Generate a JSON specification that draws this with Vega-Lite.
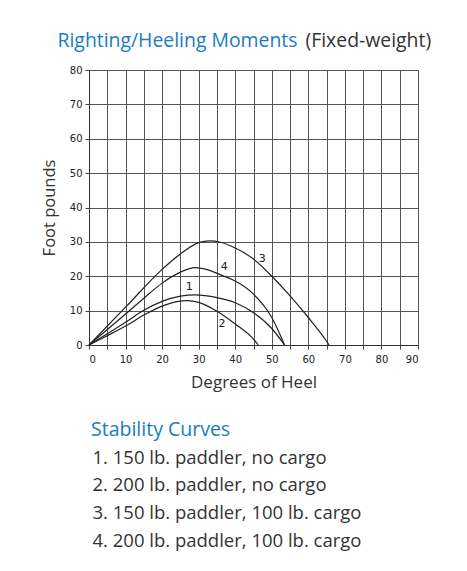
{
  "$schema": "https://vega.github.io/schema/vega-lite/v6.json",
  "width": 329,
  "height": 275,
  "autosize": "none",
  "padding": {"left": 89, "top": 70, "right": 49, "bottom": 226},
  "background": "white",
  "config": {
    "view": {"stroke": "#999999", "strokeWidth": 1}
  },
  "datasets": {
    "curves": [
      {"curve": "1. 150 lb. paddler, no cargo", "heel": 0, "moment": 0},
      {"curve": "1. 150 lb. paddler, no cargo", "heel": 5, "moment": 3.3},
      {"curve": "1. 150 lb. paddler, no cargo", "heel": 10, "moment": 6.6},
      {"curve": "1. 150 lb. paddler, no cargo", "heel": 15, "moment": 10.1},
      {"curve": "1. 150 lb. paddler, no cargo", "heel": 20, "moment": 12.7},
      {"curve": "1. 150 lb. paddler, no cargo", "heel": 25, "moment": 14.2},
      {"curve": "1. 150 lb. paddler, no cargo", "heel": 29, "moment": 14.6},
      {"curve": "1. 150 lb. paddler, no cargo", "heel": 35, "moment": 13.8},
      {"curve": "1. 150 lb. paddler, no cargo", "heel": 40, "moment": 12.3},
      {"curve": "1. 150 lb. paddler, no cargo", "heel": 45, "moment": 9.4},
      {"curve": "1. 150 lb. paddler, no cargo", "heel": 50, "moment": 4.8},
      {"curve": "1. 150 lb. paddler, no cargo", "heel": 53.5, "moment": 0},
      {"curve": "2. 200 lb. paddler, no cargo", "heel": 0, "moment": 0},
      {"curve": "2. 200 lb. paddler, no cargo", "heel": 5, "moment": 2.7},
      {"curve": "2. 200 lb. paddler, no cargo", "heel": 10, "moment": 5.5},
      {"curve": "2. 200 lb. paddler, no cargo", "heel": 15, "moment": 8.7},
      {"curve": "2. 200 lb. paddler, no cargo", "heel": 20, "moment": 11.3},
      {"curve": "2. 200 lb. paddler, no cargo", "heel": 24, "moment": 12.6},
      {"curve": "2. 200 lb. paddler, no cargo", "heel": 27, "moment": 12.9},
      {"curve": "2. 200 lb. paddler, no cargo", "heel": 30, "moment": 12.4},
      {"curve": "2. 200 lb. paddler, no cargo", "heel": 35, "moment": 9.8},
      {"curve": "2. 200 lb. paddler, no cargo", "heel": 40, "moment": 6.1},
      {"curve": "2. 200 lb. paddler, no cargo", "heel": 45, "moment": 1.7},
      {"curve": "2. 200 lb. paddler, no cargo", "heel": 46.3, "moment": 0},
      {"curve": "3. 150 lb. paddler, 100 lb. cargo", "heel": 0, "moment": 0},
      {"curve": "3. 150 lb. paddler, 100 lb. cargo", "heel": 10, "moment": 11},
      {"curve": "3. 150 lb. paddler, 100 lb. cargo", "heel": 20, "moment": 22},
      {"curve": "3. 150 lb. paddler, 100 lb. cargo", "heel": 25, "moment": 26.5},
      {"curve": "3. 150 lb. paddler, 100 lb. cargo", "heel": 30, "moment": 29.8},
      {"curve": "3. 150 lb. paddler, 100 lb. cargo", "heel": 33, "moment": 30.3},
      {"curve": "3. 150 lb. paddler, 100 lb. cargo", "heel": 36, "moment": 29.9},
      {"curve": "3. 150 lb. paddler, 100 lb. cargo", "heel": 40, "moment": 28.2},
      {"curve": "3. 150 lb. paddler, 100 lb. cargo", "heel": 45, "moment": 25},
      {"curve": "3. 150 lb. paddler, 100 lb. cargo", "heel": 50, "moment": 20},
      {"curve": "3. 150 lb. paddler, 100 lb. cargo", "heel": 55, "moment": 14.3},
      {"curve": "3. 150 lb. paddler, 100 lb. cargo", "heel": 60, "moment": 8},
      {"curve": "3. 150 lb. paddler, 100 lb. cargo", "heel": 65, "moment": 1.1},
      {"curve": "3. 150 lb. paddler, 100 lb. cargo", "heel": 65.7, "moment": 0},
      {"curve": "4. 200 lb. paddler, 100 lb. cargo", "heel": 0, "moment": 0},
      {"curve": "4. 200 lb. paddler, 100 lb. cargo", "heel": 10, "moment": 9},
      {"curve": "4. 200 lb. paddler, 100 lb. cargo", "heel": 15, "moment": 13.6},
      {"curve": "4. 200 lb. paddler, 100 lb. cargo", "heel": 20, "moment": 18},
      {"curve": "4. 200 lb. paddler, 100 lb. cargo", "heel": 25, "moment": 21.2},
      {"curve": "4. 200 lb. paddler, 100 lb. cargo", "heel": 29, "moment": 22.5},
      {"curve": "4. 200 lb. paddler, 100 lb. cargo", "heel": 33, "moment": 21.7},
      {"curve": "4. 200 lb. paddler, 100 lb. cargo", "heel": 36, "moment": 20.4},
      {"curve": "4. 200 lb. paddler, 100 lb. cargo", "heel": 40, "moment": 18.6},
      {"curve": "4. 200 lb. paddler, 100 lb. cargo", "heel": 45, "moment": 14.8},
      {"curve": "4. 200 lb. paddler, 100 lb. cargo", "heel": 50, "moment": 8},
      {"curve": "4. 200 lb. paddler, 100 lb. cargo", "heel": 53.5, "moment": 0}
    ],
    "labels": [
      {"num": "1", "heel": 27.4, "moment": 16.9},
      {"num": "2", "heel": 36.4, "moment": 6.2},
      {"num": "3", "heel": 47.4, "moment": 25.1},
      {"num": "4", "heel": 37, "moment": 22.6}
    ]
  },
  "layer": [
    {
      "data": {"name": "curves"},
      "mark": {"type": "line", "interpolate": "monotone", "strokeWidth": 1.2},
      "encoding": {
        "x": {
          "field": "heel", "type": "quantitative",
          "scale": {"domain": [0, 90], "nice": false, "zero": true},
          "title": "Degrees of Heel",
          "axis": {
            "values": [0,5,10,15,20,25,30,35,40,45,50,55,60,65,70,75,80,85,90],
            "labelExpr": "datum.value % 10 == 0 ? datum.label : ''",
            "grid": true, "gridColor": "#555555", "gridWidth": 1, "gridOpacity": 1,
            "domainColor": "#333333", "domainWidth": 1,
            "tickColor": "#444444", "tickSize": 4, "tickWidth": 1,
            "labelFont": "DejaVu Sans", "labelFontSize": 10, "labelColor": "#222222", "labelPadding": 5,
            "labelOverlap": false,
            "titleFont": "Open Sans", "titleFontSize": 17, "titleFontWeight": "normal", "titleColor": "#333333", "titlePadding": 10
          }
        },
        "y": {
          "field": "moment", "type": "quantitative",
          "scale": {"domain": [0, 80], "nice": false},
          "title": "Foot pounds",
          "axis": {
            "values": [0,10,20,30,40,50,60,70,80],
            "grid": true, "gridColor": "#555555", "gridWidth": 1, "gridOpacity": 1,
            "domainColor": "#333333", "domainWidth": 1,
            "tickColor": "#444444", "tickSize": 4, "tickWidth": 1,
            "labelFont": "DejaVu Sans", "labelFontSize": 10, "labelColor": "#222222", "labelPadding": 3,
            "titleFont": "Open Sans", "titleFontSize": 16.5, "titleFontWeight": "normal", "titleColor": "#333333", "titlePadding": 12
          }
        },
        "color": {
          "field": "curve", "type": "nominal",
          "scale": {"range": ["#222222", "#222222", "#222222", "#222222"]},
          "legend": {
            "orient": "none", "legendX": 2, "legendY": 351,
            "title": "Stability Curves",
            "titleColor": "#1a7cc1", "titleFont": "Open Sans", "titleFontSize": 19.5, "titleFontWeight": "normal",
            "titlePadding": 8,
            "labelFont": "Open Sans", "labelFontSize": 18.5, "labelColor": "#333333", "labelLimit": 400,
            "labelOffset": -17,
            "symbolType": "circle",
            "symbolSize": 0, "symbolOpacity": 0, "symbolStrokeWidth": 0,
            "rowPadding": 8.7, "padding": 0
          }
        }
      }
    },
    {
      "data": {"name": "labels"},
      "mark": {"type": "text", "font": "DejaVu Sans", "fontSize": 11, "color": "#222222", "align": "center", "baseline": "middle"},
      "encoding": {
        "x": {
          "field": "heel", "type": "quantitative",
          "title": "(Fixed-weight)",
          "axis": {
            "orient": "top", "domain": false, "ticks": false, "labels": false, "grid": false,
            "titleX": 216, "titleY": -23.3, "titleAlign": "left", "titleAnchor": "start", "titleBaseline": "alphabetic",
            "titleColor": "#333333", "titleFont": "Open Sans", "titleFontSize": 19.4, "titleFontWeight": "normal"
          }
        },
        "y": {
          "field": "moment", "type": "quantitative",
          "title": "Righting/Heeling Moments",
          "axis": {
            "orient": "right", "domain": false, "ticks": false, "labels": false, "grid": false,
            "titleAngle": 0, "titleX": -361, "titleY": -23.3, "titleAlign": "left", "titleAnchor": "start", "titleBaseline": "alphabetic",
            "titleColor": "#1a7cc1", "titleFont": "Open Sans", "titleFontSize": 19.4, "titleFontWeight": "normal"
          }
        },
        "text": {"field": "num"}
      }
    }
  ],
  "resolve": {"axis": {"x": "independent", "y": "independent"}}
}
